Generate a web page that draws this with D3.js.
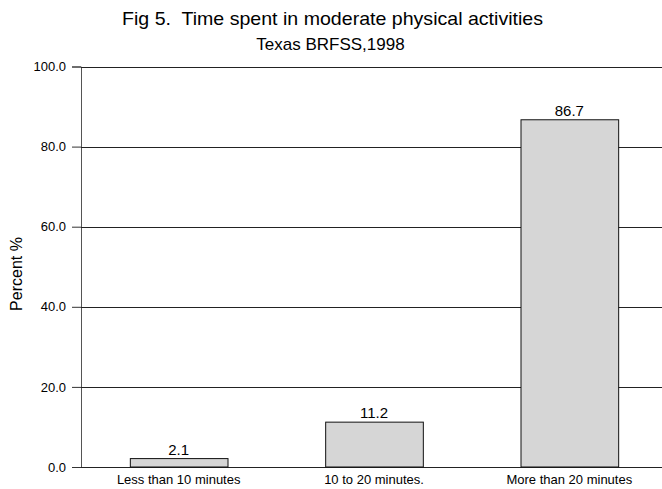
<!DOCTYPE html>
<html><head><meta charset="utf-8">
<script src="https://cdn.jsdelivr.net/npm/d3@7"></script>
<style>body{margin:0;background:#fff}svg{display:block}text{font-family:"Liberation Sans",Arial,sans-serif;fill:#000;white-space:pre}</style>
</head><body>
<script>
const categories = ["Less than 10 minutes", "10 to 20 minutes.", "More than 20 minutes"];
const values = [2.1, 11.2, 86.7];
const yTicks = [0, 20, 40, 60, 80, 100];
const title = "Fig 5.  Time spent in moderate physical activities";
const subtitle = "Texas BRFSS,1998";
const yLabel = "Percent %";

const W = 662, H = 489;
const mLeft = 81, mRight = 667, mTop = 66.5, mBottom = 467;
const svg = d3.select("body").append("svg").attr("width", W).attr("height", H);

const x = d3.scaleBand().domain(categories).range([mLeft, mRight]).paddingInner(0.5).paddingOuter(0.25);
const y = d3.scaleLinear().domain([0, 100]).range([mBottom, mTop]);

// gridlines + y axis
const yAxis = d3.axisLeft(y).tickValues(yTicks).tickFormat(d3.format(".1f")).tickSize(9).tickPadding(6);
const gy = svg.append("g").attr("transform", `translate(${mLeft},0)`).call(yAxis);
gy.select(".domain").attr("stroke", "#555");
gy.selectAll(".tick line").attr("stroke", "#333");
gy.selectAll(".tick text").attr("font-size", 13).attr("font-family", "Liberation Sans, Arial, sans-serif").attr("fill", "#000");
svg.append("g").selectAll("line").data(yTicks).join("line")
  .attr("x1", mLeft).attr("x2", W).attr("y1", d => Math.round(y(d)) + 0.5).attr("y2", d => Math.round(y(d)) + 0.5)
  .attr("stroke", "#222").attr("stroke-width", 1);

// bars
svg.append("g").selectAll("rect").data(values).join("rect")
  .attr("x", (d, i) => x(categories[i]) + 0.5)
  .attr("y", d => y(d))
  .attr("width", x.bandwidth())
  .attr("height", d => mBottom - y(d))
  .attr("fill", "#d6d6d6").attr("stroke", "#111").attr("stroke-width", 1);

// value labels
svg.append("g").selectAll("text").data(values).join("text")
  .attr("x", (d, i) => x(categories[i]) + x.bandwidth() / 2)
  .attr("y", d => y(d) - 4)
  .attr("text-anchor", "middle").attr("font-size", 15)
  .text(d => d.toFixed(1));

// category labels
svg.append("g").selectAll("text").data(categories).join("text")
  .attr("x", d => x(d) + x.bandwidth() / 2)
  .attr("y", 484).attr("text-anchor", "middle").attr("font-size", 13)
  .text(d => d);

// titles
svg.append("text").attr("x", 332.5).attr("y", 24.5).attr("text-anchor", "middle").attr("font-size", 19)
  .attr("textLength", 421).attr("lengthAdjust", "spacingAndGlyphs").text(title);
svg.append("text").attr("x", 330.5).attr("y", 49.5).attr("text-anchor", "middle").attr("font-size", 17).text(subtitle);

// y label
svg.append("text").attr("transform", "translate(22,274) rotate(-90)").attr("text-anchor", "middle")
  .attr("font-size", 16).text(yLabel);
</script>
</body></html>
